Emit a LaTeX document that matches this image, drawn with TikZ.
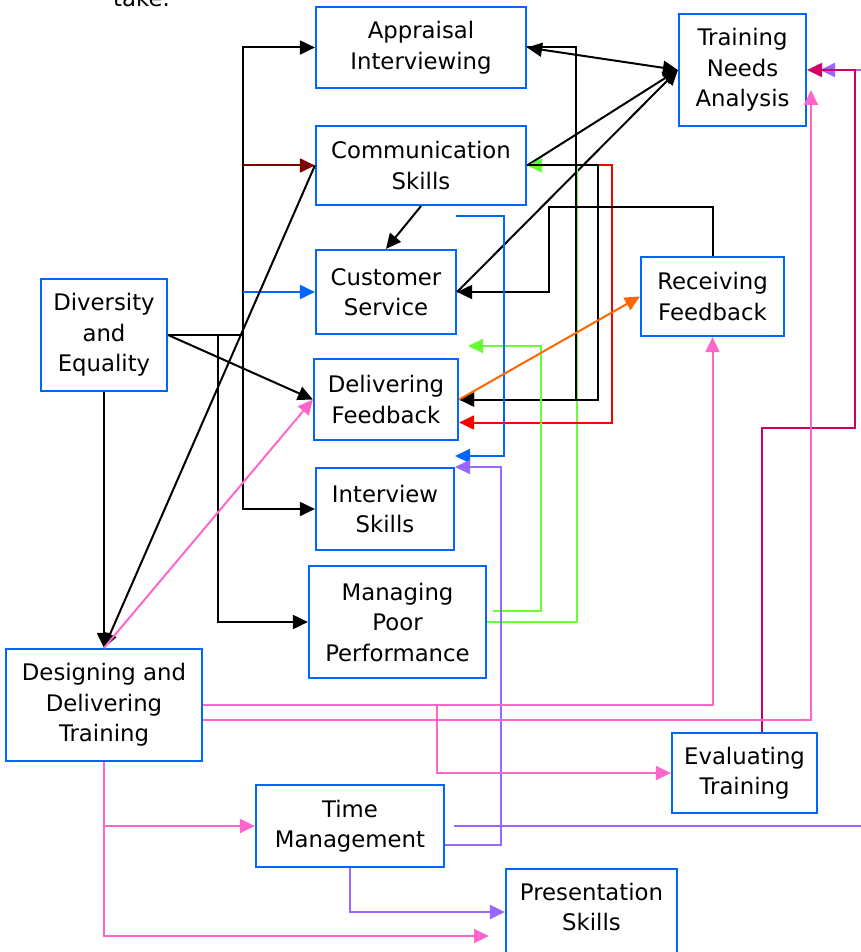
\documentclass[tikz,border=0pt]{standalone}
\usepackage{fontspec}
\setmainfont{DejaVu Sans}
\usetikzlibrary{arrows.meta}
\definecolor{boxblue}{HTML}{0066FF}
\definecolor{dred}{HTML}{800000}
\definecolor{lgreen}{HTML}{66FF33}
\definecolor{lred}{HTML}{FF0000}
\definecolor{lorange}{HTML}{FF6600}
\definecolor{lpink}{HTML}{FF66CC}
\definecolor{lpurple}{HTML}{9966FF}
\definecolor{lcrimson}{HTML}{CC0066}
\begin{document}
\begin{tikzpicture}[x=1pt,y=-1pt,
  cbox/.style={draw=boxblue, line width=2.2pt, fill=white, inner sep=0pt,
    align=center, font=\fontsize{22.8}{30.5}\selectfont},
  txt/.style={inner sep=0pt, align=center, font=\fontsize{22.8}{30.5}\selectfont},
  lnk/.style={line width=2pt, line join=miter,
    -{Triangle[length=15pt,width=14pt]}},
  seg/.style={line width=2pt},
  dlnk/.style={line width=2pt,
    {Triangle[length=15pt,width=14pt]}-{Triangle[length=15pt,width=14pt]}}]
\useasboundingbox (0,0) rectangle (861,952);

% cut-off line of text above the chart
\node[txt, anchor=base west] (take) at (113,7) {take.};

% boxes
\node[cbox, minimum width=210pt, minimum height=81pt] (appr) at (421,47.5) {Appraisal\\Interviewing};
\node[cbox, minimum width=210pt, minimum height=79pt] (comm) at (421,165.5) {Communication\\Skills};
\node[cbox, minimum width=140pt, minimum height=84pt] (cust) at (386,292) {Customer\\Service};
\node[cbox, minimum width=144pt, minimum height=81pt] (delf) at (386,399.5) {Delivering\\Feedback};
\node[cbox, minimum width=138pt, minimum height=82pt] (intv) at (385,509) {Interview\\Skills};
\node[cbox, minimum width=177pt, minimum height=112pt] (mpp) at (397.5,622) {Managing\\Poor\\Performance};
\node[cbox, minimum width=126pt, minimum height=112pt] (dive) at (104,335) {Diversity\\and\\Equality};
\node[cbox, minimum width=196pt, minimum height=112pt] (ddt) at (104,705) {Designing and\\Delivering\\Training};
\node[cbox, minimum width=188pt, minimum height=82pt] (time) at (350,826) {Time\\Management};
\node[cbox, minimum width=171pt, minimum height=86pt] (pres) at (591.5,912) {};
\node[txt] (prestxt) at (591.5,907) {Presentation\\Skills};
\node[cbox, minimum width=145pt, minimum height=80pt] (eval) at (744.5,773) {Evaluating\\Training};
\node[cbox, minimum width=127pt, minimum height=112pt] (tna) at (742.5,70) {Training\\Needs\\Analysis};
\node[cbox, minimum width=143pt, minimum height=79pt] (recf) at (712.5,296.5) {Receiving\\Feedback};

% junctions and free ends
\coordinate (j1) at (243,335);
\coordinate (j2) at (218,335);
\coordinate (g2s) at (493,611);
\coordinate (g2e) at (468,346);
\coordinate (bls) at (456,216);
\coordinate (ble) at (455,456);
\coordinate (pue) at (455,467);
\coordinate (pls) at (454,826);
\coordinate (pnd) at (820,70);
\coordinate (tnp) at (811,90);
\coordinate (prp) at (489,936);

% Diversity and Equality trunk lines
\draw[seg] (dive.east) -- (j1);
\draw[lnk] (j1) |- (appr.west);
\draw[lnk] (j1) |- (intv.west);
\draw[lnk, dred] (j1 |- comm.west) -- (comm.west);
\draw[lnk, boxblue] (j1 |- cust.west) -- (cust.west);
\draw[lnk] (j2) |- (mpp.west);
\draw[lnk] (dive.east) -- (delf.west);
\draw[lnk] (dive.south) -- (ddt.north);
\draw[lnk] (comm.west) -- (ddt.north);
\draw[lnk, lpink] (ddt.north) -- (delf.west);

% links around Training Needs Analysis
\draw[dlnk] (appr.east) -- (tna.west);
\draw[lnk] (comm.east) -- (tna.west);
\draw[lnk] (cust.east) -- (tna.west);
\draw[lnk] (comm.south) -- (cust.north);

% feedback loops on the right
\draw[lnk, lgreen] (mpp.east) -- ++(90,0) |- (comm.east);
\draw[lnk, lred] (comm.east) -- ++(85,0) |- ([yshift=-23pt]delf.east);
\draw[lnk] (appr.east) -- ++(49,0) |- (delf.east);
\draw[lnk] (comm.east) -- ++(71,0) |- (delf.east);
\draw[lnk] (recf.north) |- (549,207) |- (cust.east);
\draw[lnk, lgreen] (g2s) -- (541,611) |- (g2e);
\draw[lnk, boxblue] (bls) -- (504,216) |- (ble);
\draw[lnk, lorange] (delf.east) -- (recf.west);

% Time Management links
\draw[lnk, lpurple] ([yshift=-19pt]time.east) -- (501,845) |- (pue);
\draw[lnk, lpurple] (pls) -- (862,826) |- (pnd);
\draw[lnk, lpurple] (time.south) |- (pres.west);

% Evaluating Training back to Training Needs Analysis
\draw[lnk, lcrimson] ([xshift=17.5pt]eval.north) |- (855,428) |- (tna.east);

% Designing and Delivering Training outputs
\draw[lnk, lpink] (ddt.east) -| (recf.south);
\draw[lnk, lpink] ([yshift=-15pt]ddt.east) -| (tnp);
\draw[lnk, lpink] (437,705) |- (eval.west);
\draw[lnk, lpink] (ddt.south) |- (prp);
\draw[lnk, lpink] (ddt.south |- time.west) -- (time.west);
\end{tikzpicture}
\end{document}
